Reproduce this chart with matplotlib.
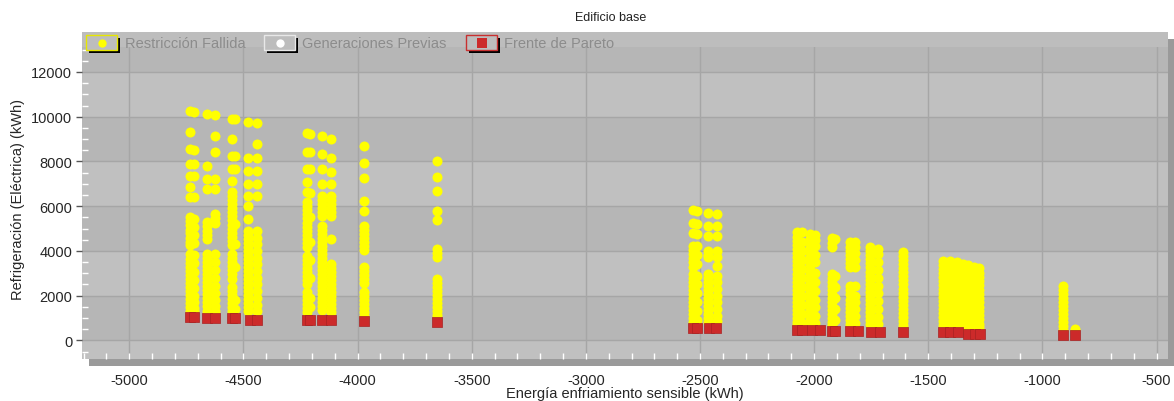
import matplotlib
matplotlib.use("Agg")
import matplotlib.pyplot as plt
from matplotlib.patches import Rectangle
from matplotlib.lines import Line2D
from matplotlib.ticker import MultipleLocator

plt.rcParams['font.family'] = ['Liberation Sans', 'DejaVu Sans']
plt.rcParams['axes.unicode_minus'] = False

# ---------------------------------------------------------------- data
title = "Edificio base"
x_label = "Energía enfriamiento sensible (kWh)"
y_label = "Refrigeración (Eléctrica) (kWh)"
legend_labels = ["Restricción Fallida", "Generaciones Previas", "Frente de Pareto"]

x_ticks = [-5000, -4500, -4000, -3500, -3000, -2500, -2000, -1500, -1000, -500]
y_ticks = [0, 2000, 4000, 6000, 8000, 10000, 12000]

# x position of every column of failed-constraint designs
restr_x = [-4735, -4715, -4660, -4625, -4551, -4535, -4479, -4439,
           -4223, -4210, -4157, -4118, -3972, -3651,
           -2529, -2515, -2464, -2427,
           -2077, -2054, -2018, -1996, -1923, -1910, -1843, -1821,
           -1756, -1719, -1609,
           -1434, -1405, -1375, -1350, -1326, -1300, -1278,
           -909, -857]

# cooling electricity of the designs in each column
restr_y = [
    [10270, 9300, 8560, 7890, 7360, 6840, 6400, 5500, 5320, 5140, 4950, 4780, 4600, 4420,
     4250, 3850, 3660, 3480, 3300, 3120, 2930, 2750, 2570, 2380, 2200, 2020, 1840, 1660,
     1480, 1320],
    [10230, 8530, 7880, 7330, 6400, 5420, 5060, 4700, 4350, 3800, 3440, 3080, 2700, 2350,
     2000, 1700, 1450, 1300],
    [10120, 7810, 7215, 6770, 5300, 5100, 4900, 4700, 4530, 3860, 3680, 3500, 3320, 3140,
     2960, 2780, 2600, 2420, 2240, 2060, 1880, 1700, 1520, 1330],
    [10080, 9150, 8410, 7200, 6760, 5650, 5450, 5250, 3850, 3500, 3150, 2800, 2450, 2100,
     1800, 1550, 1330],
    [9900, 9003, 8257, 7660, 7140, 6630, 6450, 6270, 6080, 5900, 5720, 5540, 5360, 5180,
     5000, 4820, 4640, 4460, 4280, 3860, 3680, 3500, 3320, 3140, 2960, 2760, 2390, 2210,
     2030, 1850, 1670, 1490, 1310],
    [9880, 8240, 7640, 5200, 4300, 3300, 1800, 1400],
    [9750, 8140, 7586, 6990, 6470, 6020, 5427, 4900, 4720, 4540, 4360, 4180, 4000, 3820,
     3640, 3460, 3280, 3100, 2920, 2740, 2560, 2380, 2200, 2020, 1840, 1660, 1480, 1300],
    [9730, 8780, 8140, 7586, 6990, 6470, 4900, 4600, 4300, 4000, 3700, 3400, 3100, 2800,
     2500, 2200, 1900, 1600, 1300],
    [9270, 8410, 7660, 7070, 6620, 6170, 5990, 5810, 5630, 5450, 5270, 5090, 4910, 4730,
     4550, 4370, 4190, 3790, 3610, 3430, 3250, 3070, 2890, 2710, 2530, 2150, 1970, 1790,
     1610, 1430, 1250],
    [9240, 8400, 7640, 6600, 5500, 4400, 3600, 2800, 1900, 1500],
    [9150, 8330, 7660, 6990, 6470, 6290, 6110, 5930, 5750, 5575, 5127, 4950, 4770, 4590,
     4410, 4230, 4050, 3870, 3690, 3510, 3340, 3160, 2980, 2800, 2620, 2440, 2260, 2080,
     1900, 1720, 1540, 1360],
    [9000, 8140, 7510, 6990, 6470, 6290, 6110, 5930, 5750, 5575, 4530, 3415, 3235, 3055,
     2875, 2695, 2515, 2335, 2160, 1980, 1800, 1620, 1440, 1260],
    [8705, 7917, 7246, 6245, 5798, 5127, 4950, 4770, 4590, 4410, 4230, 4050, 3268, 3090,
     2910, 2730, 2550, 2150, 1970, 1790, 1610, 1430, 1250, 1100],
    [8033, 7290, 6692, 5798, 5382, 4086, 3900, 3715, 2745, 2560, 2380, 2200, 2020, 1840,
     1660, 1480, 1300, 1120],
    [5830, 5234, 4787, 4234, 4050, 3870, 3690, 3500, 3268, 2968, 2790, 2610, 2430, 2250,
     2070, 1890, 1710, 1530, 1350, 1170, 990, 820],
    [5800, 5200, 4760, 4200, 3800, 3400, 2900, 2500, 2100, 1700, 1300, 900],
    [5682, 5127, 4680, 4010, 3830, 3715, 2968, 2790, 2610, 2430, 2250, 2070, 1890, 1710,
     1530, 1350, 1170, 990, 820],
    [5660, 5100, 4660, 4010, 3715, 3340, 2900, 2600, 2300, 2000, 1700, 1400, 1100, 850],
    [4860, 4610, 4430, 4250, 4070, 3890, 3710, 3530, 3350, 3170, 2990, 2810, 2630, 2450,
     2270, 2090, 1910, 1730, 1550, 1370, 1190, 1010, 830, 700],
    [4850, 4400, 4000, 3600, 3200, 2800, 2400, 2000, 1600, 1200, 800],
    [4756, 4550, 4350, 4150, 3950, 3750, 3550, 3350, 3150, 2950, 2750, 2550, 2350, 2150,
     1950, 1750, 1550, 1350, 1150, 950, 750],
    [4720, 4500, 4200, 3800, 3500, 3000, 2600, 2200, 1800, 1500, 1100, 800],
    [4564, 4362, 4162, 2968, 2790, 2610, 2430, 2250, 2070, 1890, 1710, 1530, 1350, 1170,
     990, 810, 690],
    [4540, 2900, 2400, 1900, 1400, 900],
    [4412, 4162, 3980, 3800, 3620, 3440, 3260, 2445, 2260, 2080, 1800, 1620, 1440, 1260,
     1080, 900, 720],
    [4400, 4162, 3900, 3600, 3300, 2445, 2000, 1700, 1400, 1100, 800],
    [4162, 3980, 3800, 3620, 3440, 3260, 3080, 2900, 2720, 2540, 2360, 2180, 2000, 1820,
     1640, 1460, 1280, 1100, 920, 740],
    [4080, 3850, 3500, 3150, 2800, 2450, 2100, 1750, 1400, 1050, 750],
    [3938, 3760, 3580, 3400, 3220, 3040, 2860, 2680, 2500, 2320, 2140, 1960, 1780, 1600,
     1420, 1240, 1060, 880, 700],
    [3563, 3380, 3200, 3020, 2840, 2660, 2480, 2300, 2120, 1940, 1760, 1580, 1400, 1220,
     1040, 860, 700],
    [3530, 3340, 3150, 2950, 2760, 2570, 2380, 2190, 2000, 1810, 1620, 1430, 1240, 1050,
     860, 690],
    [3490, 3300, 3110, 2920, 2730, 2540, 2350, 2160, 1970, 1780, 1590, 1400, 1210, 1020,
     830, 660],
    [3430, 3240, 3050, 2860, 2670, 2480, 2290, 2100, 1910, 1720, 1530, 1340, 1150, 960,
     770, 620],
    [3370, 3180, 2990, 2800, 2610, 2420, 2230, 2040, 1850, 1660, 1470, 1280, 1090, 900,
     710, 600],
    [3300, 3110, 2920, 2730, 2540, 2350, 2160, 1970, 1780, 1590, 1400, 1210, 1020, 830,
     640],
    [3222, 3030, 2840, 2650, 2460, 2270, 2080, 1890, 1700, 1510, 1320, 1130, 940, 750,
     600],
    [2445, 2270, 2090, 1910, 1730, 1550, 1370, 1190, 1010, 830, 650, 480],
    [510],
]

# Pareto front designs
pareto_x = [-4735, -4715, -4660, -4625, -4551, -4537, -4471, -4442,
            -4223, -4209, -4157, -4116, -3970, -3651,
            -2529, -2515, -2459, -2431, -2077, -2054, -2008, -1974,
            -1920, -1909, -1843, -1809, -1751, -1711, -1609,
            -1434, -1405, -1370, -1326, -1296, -1274, -909, -857]
pareto_y = [1046, 1046, 980, 980, 1010, 1010, 934, 934,
            920, 920, 920, 920, 880, 822,
            565, 565, 565, 565, 487, 487, 470, 470,
            420, 420, 420, 420, 380, 380, 398,
            362, 362, 362, 300, 300, 300, 240, 240]

# ---------------------------------------------------------------- figure
W, H = 1174, 402
fig = plt.figure(figsize=(W / 100, H / 100), dpi=100)
fig.patch.set_facecolor('white')


def fx(px):
    return px / W


def fy(py):
    return 1 - py / H


L, R, T, B = 82, 1168, 33, 360
ax = fig.add_axes([fx(L), fy(B), (R - L) / W, (B - T) / H])

# drop shadow behind the plotting panel
fig.patches.append(Rectangle((fx(89), fy(367)), (W - 89) / W, (367 - 40) / H,
                             transform=fig.transFigure, facecolor='#9A9A9A',
                             edgecolor='none', zorder=-1))

ax.set_facecolor('#C0C0C0')
for y0, y1 in [(0, 2000), (4000, 6000), (8000, 10000), (12000, 16000)]:
    ax.axhspan(y0, y1, color='#B6B6B6', lw=0, zorder=0.1)

ax.set_xlim(-5207, -450)
ax.set_ylim(-831, 13786)
ax.set_xticks(x_ticks)
ax.set_yticks(y_ticks)
ax.xaxis.set_minor_locator(MultipleLocator(100))
ax.yaxis.set_minor_locator(MultipleLocator(500))
ax.set_axisbelow(True)
ax.grid(True, which='major', color='#A6A6A6', lw=1)
for s in ax.spines.values():
    s.set_visible(False)

ax.tick_params(axis='x', which='both', direction='in', color='white', length=4,
               width=1, pad=10, labelsize=10.5, labelcolor='#262626')
ax.tick_params(axis='y', which='major', direction='out', color='#555555', length=4,
               width=1, pad=3, labelsize=10.5, labelcolor='#262626')
ax.tick_params(axis='y', which='minor', direction='in', color='white', length=4, width=1)

# strip at the top of the panel that holds the legend
ax.add_patch(Rectangle((0, 1 - 15 / (B - T)), 1, 15 / (B - T), transform=ax.transAxes,
                       facecolor='#BDBDBD', edgecolor='none', zorder=0.6))

for x, ys in zip(restr_x, restr_y):
    ax.scatter([x] * len(ys), ys, s=52, marker='o', c='#FFFF00', linewidths=0, zorder=3)

ax.scatter(pareto_x, pareto_y, s=60, marker='s', c='#CC2A2A', edgecolors='#A82222',
           linewidths=0.5, zorder=4)

# ---------------------------------------------------------------- legend
legend_boxes = [(86, '#E6E600', 'o', '#FFFF00', 125),
                (264, '#E8E8E8', 'o', '#FFFFFF', 302),
                (466, '#C83030', 's', '#CC2A2A', 504)]
for (bx, edge, mk, mc, tx), label in zip(legend_boxes, legend_labels):
    bw, bh, by = 31, 15, 36
    fig.patches.append(Rectangle((fx(bx + 3), fy(by + bh + 3)), bw / W, bh / H,
                                 transform=fig.transFigure, facecolor='black',
                                 edgecolor='none', zorder=5))
    fig.patches.append(Rectangle((fx(bx), fy(by + bh)), bw / W, bh / H,
                                 transform=fig.transFigure, facecolor='#BDBDBD',
                                 edgecolor=edge, lw=1, zorder=6))
    fig.add_artist(Line2D([fx(bx + bw / 2)], [fy(by + bh / 2)], marker=mk,
                          markersize=6 if mk == 'o' else 6.5, color=mc, lw=0,
                          markeredgewidth=0, transform=fig.transFigure, zorder=7))
    fig.text(fx(tx), fy(44), label, fontsize=10.5, color='#8C8C8C',
             ha='left', va='center', zorder=7)

# ---------------------------------------------------------------- text
fig.text(fx(611), fy(18), title, fontsize=9, color='#222222', ha='center', va='center')
fig.text(fx(625), fy(394), x_label, fontsize=10.5, color='#262626',
         ha='center', va='center')
fig.text(fx(18), fy(200), y_label, fontsize=10.5, color='#262626', rotation=90,
         ha='center', va='center')

fig.savefig('out.png', dpi=100)
